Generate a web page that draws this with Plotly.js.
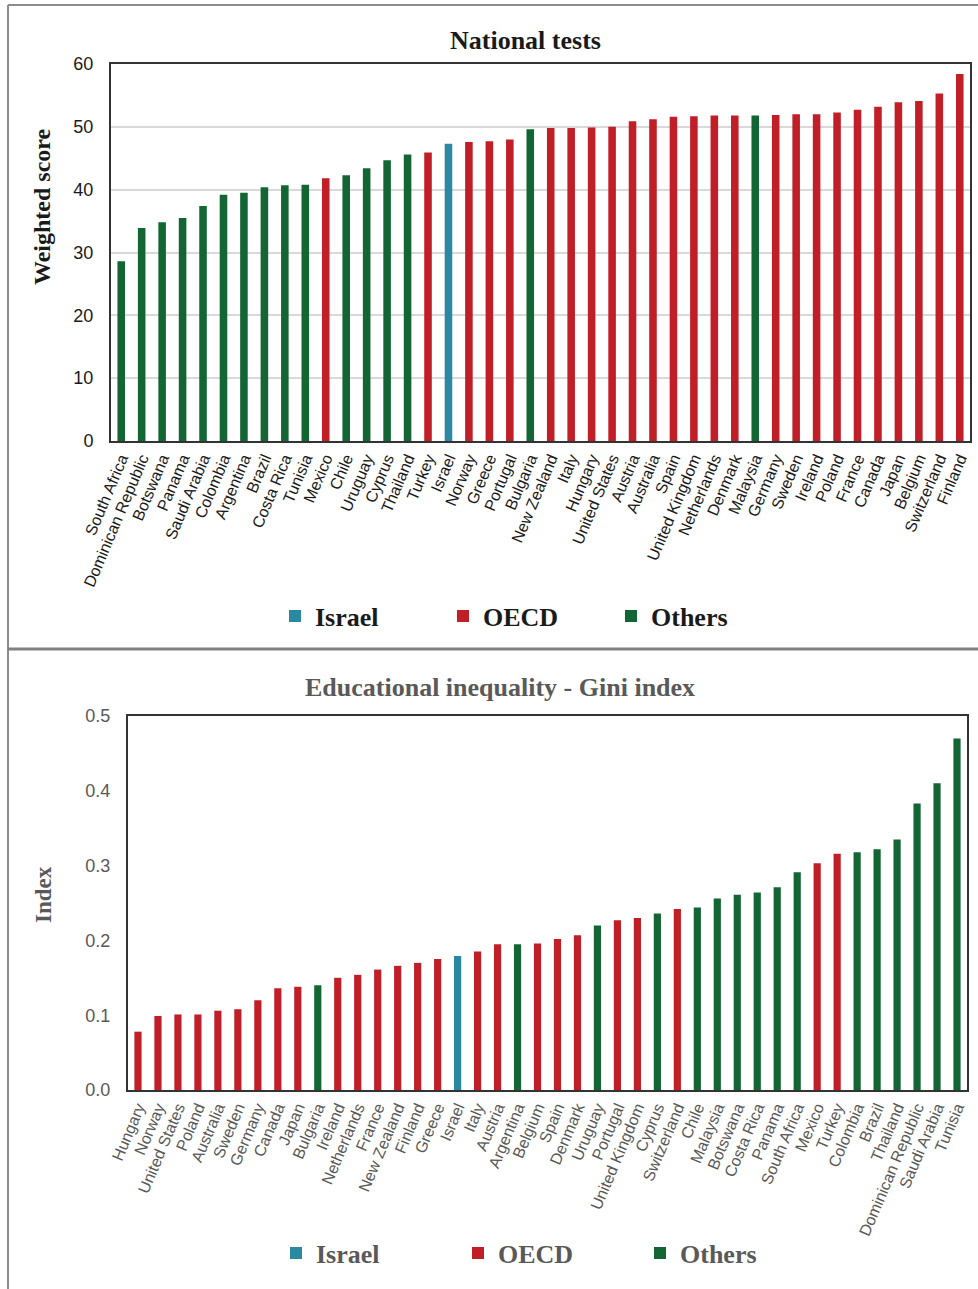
<!DOCTYPE html>
<html>
<head>
<meta charset="utf-8">
<script src="https://cdn.plot.ly/plotly-3.0.1.min.js"></script>
<style>html,body{margin:0;padding:0;background:#fff;}#chart{width:978px;height:1289px;}</style>
</head>
<body>
<div id="chart"></div>
<script>
// ---- Top chart: National tests ----
const testCountries = ["South Africa","Dominican Republic","Botswana","Panama","Saudi Arabia","Colombia","Argentina","Brazil","Costa Rica","Tunisia","Mexico","Chile","Uruguay","Cyprus","Thailand","Turkey","Israel","Norway","Greece","Portugal","Bulgaria","New Zealand","Italy","Hungary","United States","Austria","Australia","Spain","United Kingdom","Netherlands","Denmark","Malaysia","Germany","Sweden","Ireland","Poland","France","Canada","Japan","Belgium","Switzerland","Finland"];
const testScores = [28.6,33.9,34.8,35.5,37.4,39.2,39.5,40.4,40.7,40.8,41.8,42.3,43.4,44.7,45.6,45.9,47.3,47.6,47.7,48.0,49.6,49.8,49.8,49.9,50.0,50.9,51.2,51.6,51.7,51.8,51.8,51.8,51.9,52.0,52.0,52.3,52.7,53.2,53.9,54.1,55.3,58.4];
const testGroups = ["Others","Others","Others","Others","Others","Others","Others","Others","Others","Others","OECD","Others","Others","Others","Others","OECD","Israel","OECD","OECD","OECD","Others","OECD","OECD","OECD","OECD","OECD","OECD","OECD","OECD","OECD","OECD","Others","OECD","OECD","OECD","OECD","OECD","OECD","OECD","OECD","OECD","OECD"];

// ---- Bottom chart: Educational inequality - Gini index ----
const giniCountries = ["Hungary","Norway","United States","Poland","Australia","Sweden","Germany","Canada","Japan","Bulgaria","Ireland","Netherlands","France","New Zealand","Finland","Greece","Israel","Italy","Austria","Argentina","Belgium","Spain","Denmark","Uruguay","Portugal","United Kingdom","Cyprus","Switzerland","Chile","Malaysia","Botswana","Costa Rica","Panama","South Africa","Mexico","Turkey","Colombia","Brazil","Thailand","Dominican Republic","Saudi Arabia","Tunisia"];
const giniValues = [0.078,0.099,0.101,0.101,0.106,0.108,0.120,0.136,0.138,0.140,0.150,0.154,0.161,0.166,0.170,0.175,0.179,0.185,0.195,0.195,0.196,0.202,0.207,0.220,0.227,0.230,0.236,0.242,0.244,0.256,0.261,0.264,0.271,0.291,0.303,0.316,0.318,0.322,0.335,0.383,0.410,0.470];
const giniGroups = ["OECD","OECD","OECD","OECD","OECD","OECD","OECD","OECD","OECD","Others","OECD","OECD","OECD","OECD","OECD","OECD","Israel","OECD","OECD","Others","OECD","OECD","OECD","Others","OECD","OECD","Others","OECD","Others","Others","Others","Others","Others","Others","OECD","OECD","Others","Others","Others","Others","Others","Others"];

const groupNames = ["Israel","OECD","Others"];
const groupColors = {"Israel":"#2a88a0","OECD":"#c11f28","Others":"#136634"};

const W = 978, H = 1289;
const px = v => v / W;
const py = v => 1 - v / H;

const traces = [];
function addTraces(cats, vals, groups, xa, ya, legendId, width) {
  groupNames.forEach(g => {
    traces.push({
      type: "bar",
      x: cats,
      y: vals.map((v, i) => groups[i] === g ? v : null),
      name: g,
      xaxis: xa, yaxis: ya,
      legend: legendId,
      width: width,
      marker: {color: groupColors[g], line: {width: 0}},
      hoverinfo: "x+y"
    });
  });
}
addTraces(testCountries, testScores, testGroups, "x", "y", "legend", 0.37);
addTraces(giniCountries, giniValues, giniGroups, "x2", "y2", "legend2", 0.36);

const sans = "Liberation Sans, Arial, sans-serif";
const serif = "Liberation Serif, Times New Roman, serif";
const topColor = "#1a1a1a", botColor = "#595959";

const layout = {
  width: W, height: H,
  margin: {l: 0, r: 0, t: 0, b: 0},
  paper_bgcolor: "#fff", plot_bgcolor: "#fff",
  barmode: "overlay",
  showlegend: true,
  xaxis: {
    domain: [px(111), px(970)], anchor: "y",
    categoryorder: "array", categoryarray: testCountries,
    tickangle: -67, tickfont: {family: sans, size: 16, color: topColor},
    showline: true, mirror: true, linecolor: "#333", linewidth: 2,
    ticks: "", showgrid: false, fixedrange: true
  },
  yaxis: {
    domain: [py(441), py(64)], anchor: "x",
    range: [0, 60], dtick: 10, tick0: 0,
    tickfont: {family: sans, size: 18, color: topColor},
    showline: true, mirror: true, linecolor: "#333", linewidth: 2,
    showgrid: true, gridcolor: "#d9d9d9", gridwidth: 2,
    ticks: "", ticklabelstandoff: 12, zeroline: false, fixedrange: true
  },
  xaxis2: {
    domain: [px(128), px(967)], anchor: "y2",
    categoryorder: "array", categoryarray: giniCountries,
    tickangle: -67, tickfont: {family: sans, size: 16, color: botColor},
    showline: true, mirror: true, linecolor: "#333", linewidth: 2,
    ticks: "", showgrid: false, fixedrange: true
  },
  yaxis2: {
    domain: [py(1090), py(716)], anchor: "x2",
    range: [0, 0.5], dtick: 0.1, tick0: 0, tickformat: ".1f",
    tickfont: {family: sans, size: 18, color: botColor},
    showline: true, mirror: true, linecolor: "#333", linewidth: 2,
    showgrid: false, ticks: "", ticklabelstandoff: 12, zeroline: false, fixedrange: true
  },
  legend: {
    orientation: "h", x: px(275), y: py(616), xanchor: "left", yanchor: "middle",
    font: {family: serif, size: 26, weight: "bold", color: topColor},
    entrywidth: 123, entrywidthmode: "pixels", bgcolor: "rgba(0,0,0,0)", traceorder: "normal"
  },
  legend2: {
    orientation: "h", x: px(276), y: py(1253), xanchor: "left", yanchor: "middle",
    font: {family: serif, size: 26, weight: "bold", color: botColor},
    entrywidth: 137, entrywidthmode: "pixels", bgcolor: "rgba(0,0,0,0)", traceorder: "normal"
  },
  annotations: [
    {text: "National tests", xref: "paper", yref: "paper", x: px(525), y: py(41), xanchor: "center", yanchor: "middle", showarrow: false,
     font: {family: serif, size: 26, weight: "bold", color: topColor}},
    {text: "Weighted score", xref: "paper", yref: "paper", x: px(42), y: py(207), xanchor: "center", yanchor: "middle", showarrow: false, textangle: -90,
     font: {family: serif, size: 24, weight: "bold", color: topColor}},
    {text: "Educational inequality - Gini index", xref: "paper", yref: "paper", x: px(500), y: py(687), xanchor: "center", yanchor: "middle", showarrow: false,
     font: {family: serif, size: 26, weight: "bold", color: botColor}},
    {text: "Index", xref: "paper", yref: "paper", x: px(43), y: py(895), xanchor: "center", yanchor: "middle", showarrow: false, textangle: -90,
     font: {family: serif, size: 23, weight: "bold", color: botColor}}
  ],
  shapes: [
    {type: "line", xref: "paper", yref: "paper", x0: px(8), x1: px(8), y0: py(5), y1: py(1289), line: {color: "#8c8c8c", width: 2}},
    {type: "line", xref: "paper", yref: "paper", x0: px(8), x1: 1, y0: py(5), y1: py(5), line: {color: "#8c8c8c", width: 2}},
    {type: "line", xref: "paper", yref: "paper", x0: px(8), x1: 1, y0: py(649), y1: py(649), line: {color: "#808080", width: 3}}
  ]
};

Plotly.newPlot("chart", traces, layout, {displayModeBar: false});
</script>
</body>
</html>
